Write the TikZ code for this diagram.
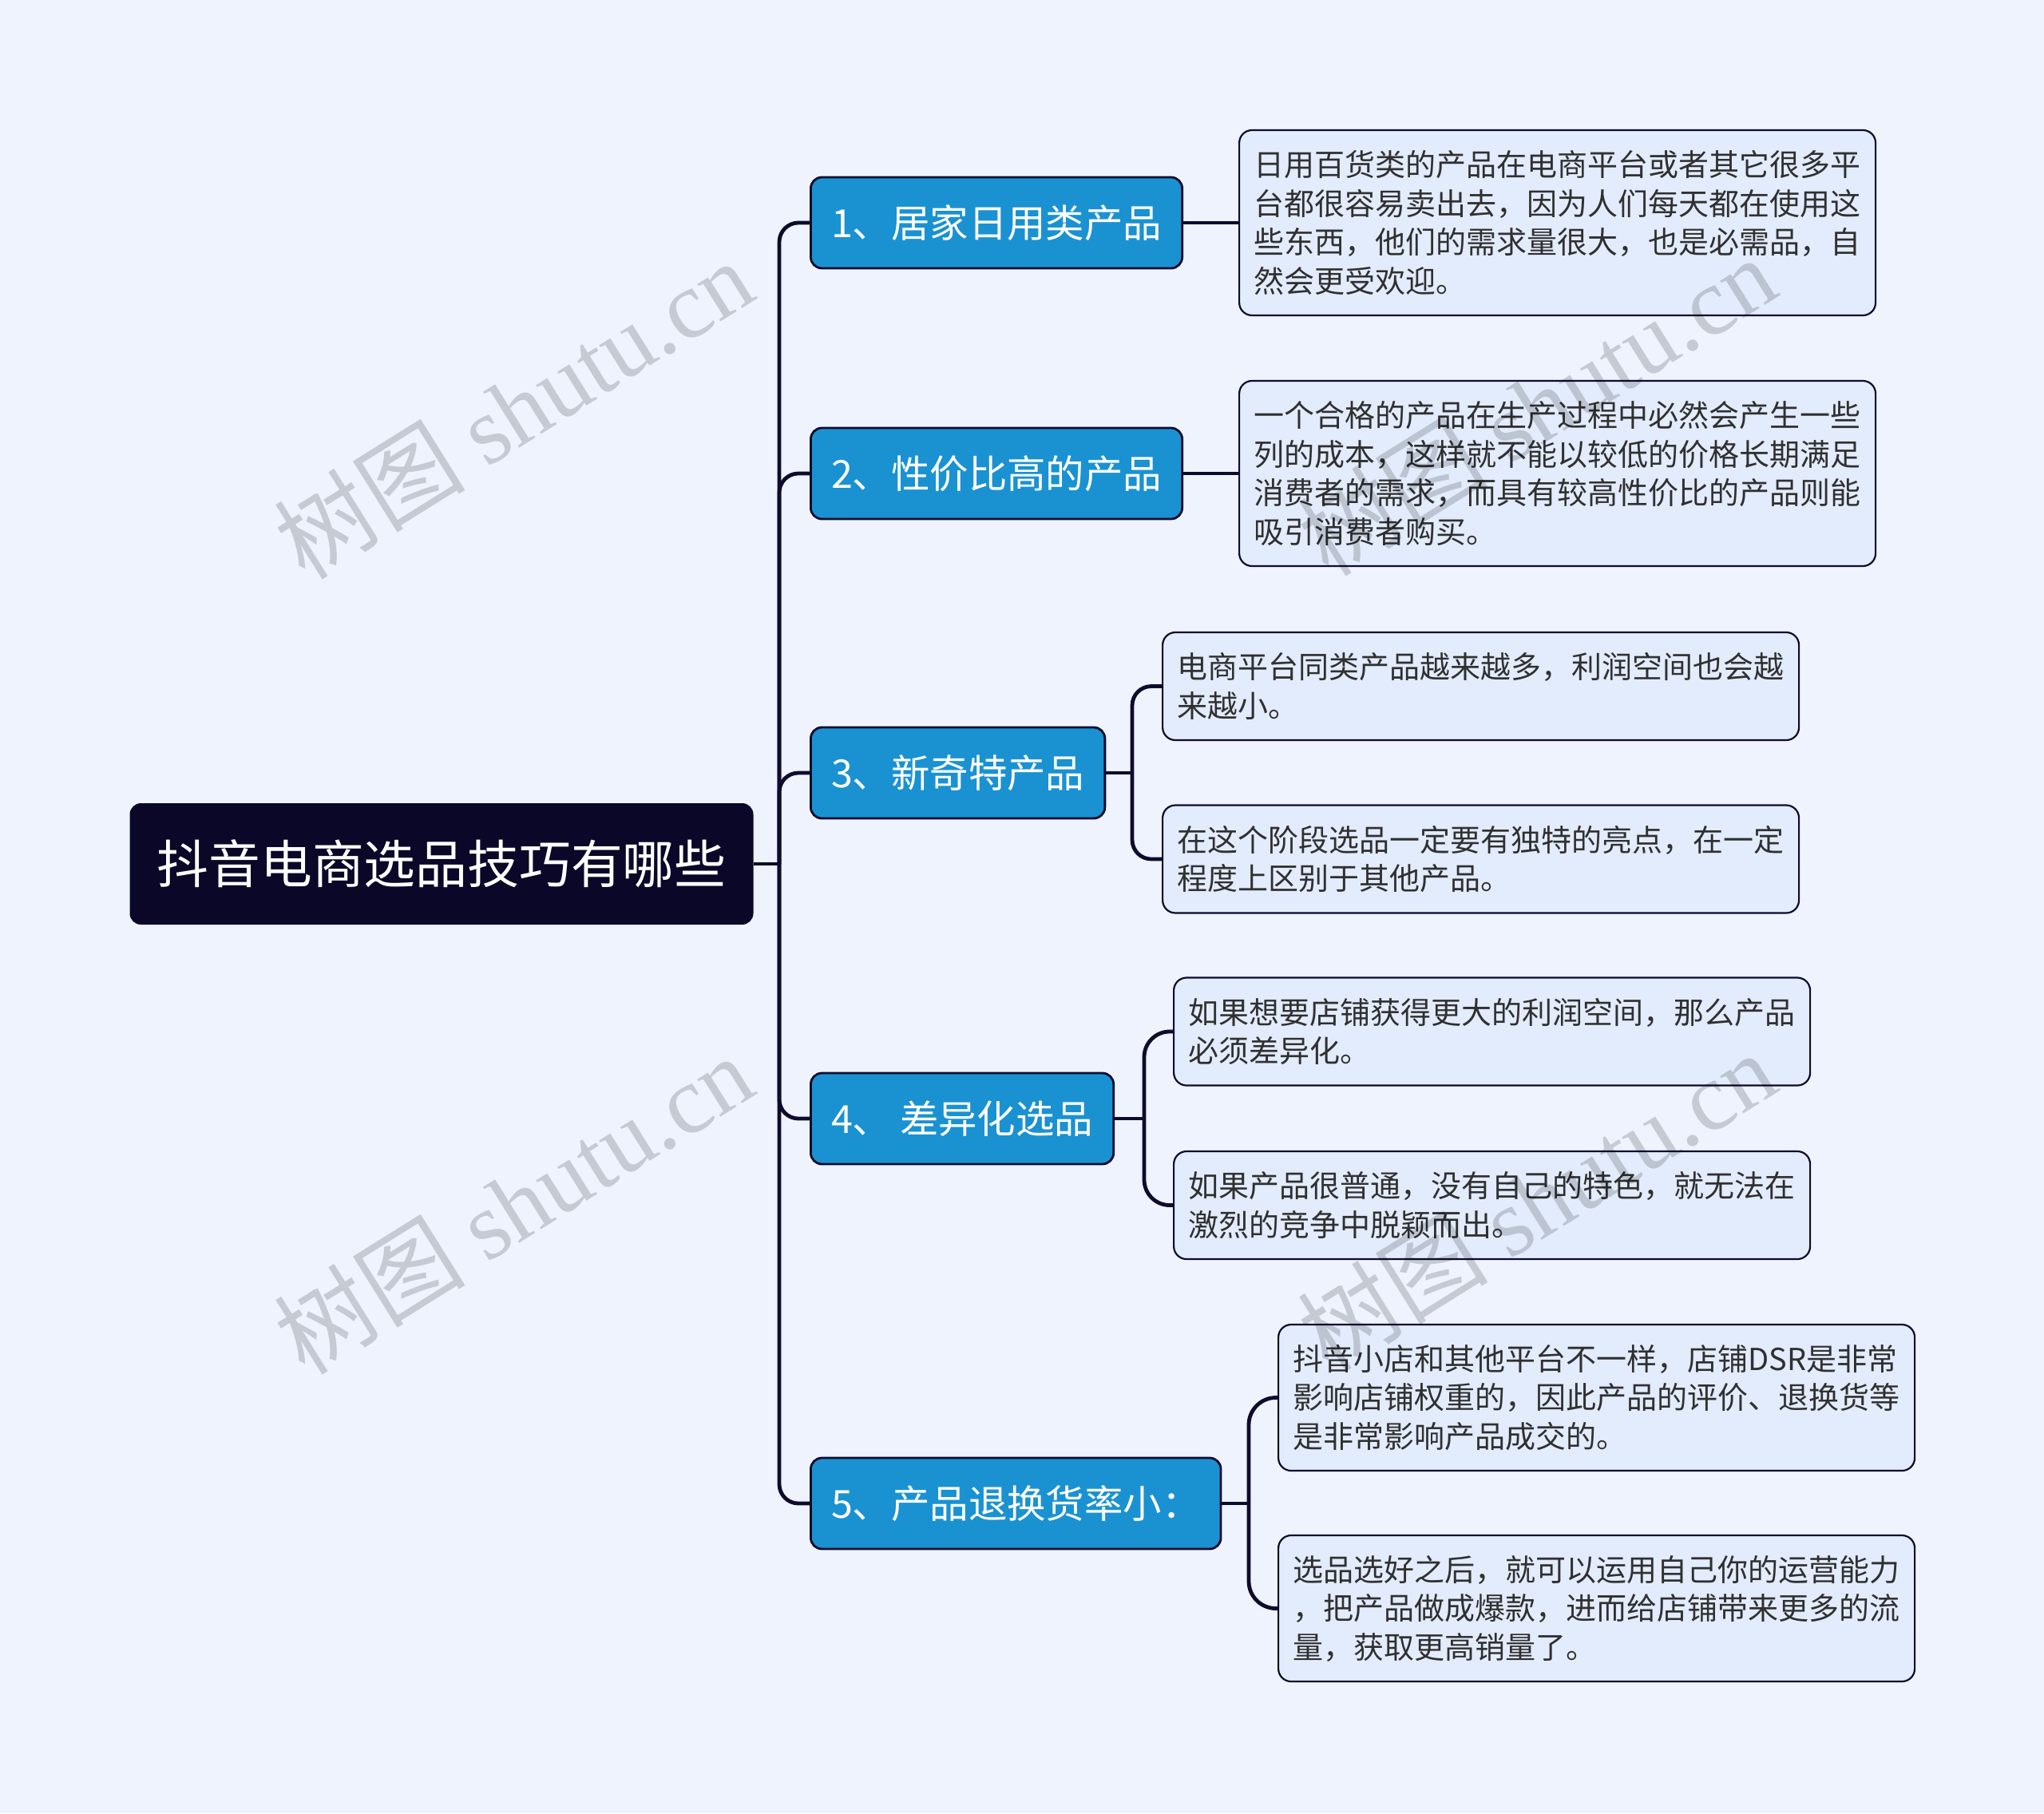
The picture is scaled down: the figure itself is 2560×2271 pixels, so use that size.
\documentclass[tikz,border=0pt]{standalone}
\usepackage{fontspec}
\setmainfont{Noto Sans CJK SC}
\newfontfamily\wmlatin{Liberation Serif}
\definecolor{bgBlue}{RGB}{238, 243, 254}
\definecolor{rootNavy}{RGB}{10, 7, 40}
\definecolor{branchBlue}{RGB}{26, 146, 210}
\definecolor{leafBlue}{RGB}{227, 236, 252}
\definecolor{lineNavy}{RGB}{14, 11, 44}
\definecolor{leafText}{RGB}{48, 48, 48}

\begin{document}
\begin{tikzpicture}[x=0.5pt, y=-0.5pt,
    rootbox/.style={fill=rootNavy, rounded corners=7pt, text=white,
      minimum width=390.5pt, minimum height=76pt, inner sep=0pt,
      font=\fontsize{32.4}{40}\selectfont},
    branchbox/.style={draw=lineNavy, line width=1.4pt, fill=branchBlue,
      rounded corners=7pt, text=white, anchor=west, minimum height=57pt,
      inner xsep=12.8pt, font=\fontsize{24.2}{30}\selectfont},
    leafbox/.style={draw=lineNavy, line width=1.1pt, fill=leafBlue,
      rounded corners=8pt, text=leafText, anchor=west, text width=380pt,
      align=left, inner xsep=9.25pt, font=\fontsize{19}{24.25}\selectfont},
    link/.style={draw=lineNavy, line width=2.4pt},
    watermark/.style={rotate=32, text=black, text opacity=0.17,
      font=\fontsize{60}{64}\selectfont}]
  \useasboundingbox[fill=bgBlue] (0,0) rectangle (2560,2271);

  % Root
  \node[rootbox] (root) at (553,1082) {抖音电商选品技巧有哪些};

  % Branches
  \node[branchbox] (b1) at (1014,279) {1、居家日用类产品};
  \node[branchbox] (b2) at (1014,593) {2、性价比高的产品};
  \node[branchbox] (b3) at (1014,968) {3、新奇特产品};
  \node[branchbox] (b4) at (1014,1401) {4、 差异化选品};
  \node[branchbox] (b5) at (1014,1883) {5、产品退换货率小：};

  % Leaves
  \node[leafbox, minimum height=116pt] (l1) at (1551,279)
    {日用百货类的产品在电商平台或者其它很多平\\台都很容易卖出去，因为人们每天都在使用这\\些东西，他们的需求量很大，也是必需品，自\\然会更受欢迎。};
  \node[leafbox, minimum height=116pt] (l2) at (1551,593)
    {一个合格的产品在生产过程中必然会产生一些\\列的成本，这样就不能以较低的价格长期满足\\消费者的需求，而具有较高性价比的产品则能\\吸引消费者购买。};
  \node[leafbox, minimum height=67.5pt] (l3a) at (1455,859.5)
    {电商平台同类产品越来越多，利润空间也会越\\来越小。};
  \node[leafbox, minimum height=67.5pt] (l3b) at (1455,1076)
    {在这个阶段选品一定要有独特的亮点，在一定\\程度上区别于其他产品。};
  \node[leafbox, minimum height=67.5pt] (l4a) at (1469,1292)
    {如果想要店铺获得更大的利润空间，那么产品\\必须差异化。};
  \node[leafbox, minimum height=67.5pt] (l4b) at (1469,1509.5)
    {如果产品很普通，没有自己的特色，就无法在\\激烈的竞争中脱颖而出。};
  \node[leafbox, minimum height=91.5pt] (l5a) at (1600,1750.5)
    {抖音小店和其他平台不一样，店铺DSR是非常\\影响店铺权重的，因此产品的评价、退换货等\\是非常影响产品成交的。};
  \node[leafbox, minimum height=91.5pt] (l5b) at (1600,2014.5)
    {选品选好之后，就可以运用自己你的运营能力\\，把产品做成爆款，进而给店铺带来更多的流\\量，获取更高销量了。};

  % Trunk from root to branches
  \coordinate (trunk) at (976,1082);
  \draw[link] (root.east) -- (trunk);
  \draw[link, rounded corners=12pt] (trunk) |- (b1.west);
  \draw[link, rounded corners=12pt] (trunk) |- (b2.west);
  \draw[link, rounded corners=12pt] (trunk) |- (b3.west);
  \draw[link, rounded corners=12pt] (trunk) |- (b4.west);
  \draw[link, rounded corners=12pt] (trunk) |- (b5.west);

  % Branch to leaves
  \draw[link] (b1.east) -- (l1.west);
  \draw[link] (b2.east) -- (l2.west);

  \coordinate (j3) at (1418,968);
  \draw[link] (b3.east) -- (j3);
  \draw[link, rounded corners=12pt] (j3) |- (l3a.west);
  \draw[link, rounded corners=12pt] (j3) |- (l3b.west);

  \coordinate (j4) at (1433,1401);
  \draw[link] (b4.east) -- (j4);
  \draw[link, rounded corners=16pt] (j4) |- (l4a.west);
  \draw[link, rounded corners=16pt] (j4) |- (l4b.west);

  \coordinate (j5) at (1564,1883);
  \draw[link] (b5.east) -- (j5);
  \draw[link, rounded corners=17pt] (j5) |- (l5a.west);
  \draw[link, rounded corners=17pt] (j5) |- (l5b.west);

  % Watermarks
  \node[watermark] (wm1) at (643,512) {树图 {\wmlatin shutu.cn}};
  \node[watermark] (wm2) at (643,1508) {树图 {\wmlatin shutu.cn}};
  \node[watermark] (wm3) at (1924,508) {树图 {\wmlatin shutu.cn}};
  \node[watermark] (wm4) at (1924,1504) {树图 {\wmlatin shutu.cn}};
\end{tikzpicture}
\end{document}
